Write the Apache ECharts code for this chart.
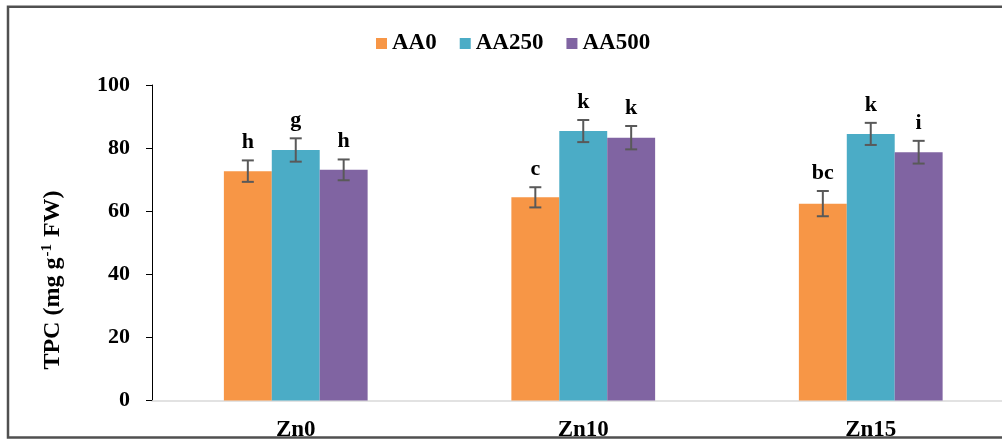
<!DOCTYPE html>
<html>
<head>
<meta charset="utf-8">
<script src="https://cdn.jsdelivr.net/npm/echarts@6/dist/echarts.min.js"></script>
<style>
html,body{margin:0;padding:0;background:#fff;}
#c{width:1002px;height:439px;}
</style>
</head>
<body>
<div id="c"></div>
<script>
// ---- data ----
var categories = ['Zn0', 'Zn10', 'Zn15'];
var seriesNames = ['AA0', 'AA250', 'AA500'];
var aa0 = [72.7, 64.4, 62.4];
var aa250 = [79.4, 85.4, 84.5];
var aa500 = [73.1, 83.3, 78.7];
var err0 = [3.4, 3.2, 4.0];
var err250 = [3.7, 3.5, 3.5];
var err500 = [3.3, 3.7, 3.6];
var letters0 = ['h', 'c', 'bc'];
var letters250 = ['g', 'k', 'k'];
var letters500 = ['h', 'k', 'i'];
var yTicks = [0, 20, 40, 60, 80, 100];

var colors = ['#F79646', '#4BACC6', '#8064A2'];
var FONT = '"Liberation Serif", "Times New Roman", serif';

var values = [aa0, aa250, aa500];
var errors = [err0, err250, err500];
var letters = [letters0, letters250, letters500];

var chart = echarts.init(document.getElementById('c'), null, {renderer: 'canvas'});

var series = [];
values.forEach(function (vals, si) {
  series.push({
    name: seriesNames[si],
    type: 'bar',
    data: vals,
    barGap: '0%',
    barCategoryGap: '50%',
    itemStyle: {color: colors[si]},
    emphasis: {disabled: true},
    z: 2
  });
});
values.forEach(function (vals, si) {
  var data = vals.map(function (v, i) { return [i, v, errors[si][i]]; });
  series.push({
    type: 'custom',
    name: 'err' + si,
    data: data,
    z: 5,
    silent: true,
    renderItem: function (params, api) {
      var ci = api.value(0);
      var v = api.value(1);
      var e = api.value(2);
      var txt = letters[si][params.dataIndex];
      var band = api.size([1, 0])[0];
      var off = (si - 1) * band / 6;
      var top = api.coord([ci, v + e]);
      var bot = api.coord([ci, v - e]);
      var x = top[0] + off;
      var cap = 6;
      var st = {stroke: '#595959', lineWidth: 2};
      return {
        type: 'group',
        children: [
          {type: 'line', shape: {x1: x, y1: top[1], x2: x, y2: bot[1]}, style: st},
          {type: 'line', shape: {x1: x - cap, y1: top[1], x2: x + cap, y2: top[1]}, style: st},
          {type: 'line', shape: {x1: x - cap, y1: bot[1], x2: x + cap, y2: bot[1]}, style: st},
          {type: 'text', x: x, y: top[1] - 7,
            style: {text: txt, fill: '#000', font: 'bold 22px ' + FONT, textAlign: 'center', textVerticalAlign: 'bottom'}}
        ]
      };
    }
  });
});

var option = {
  animation: false,
  backgroundColor: '#fff',
  legend: {
    data: seriesNames,
    left: 371,
    top: 27,
    itemWidth: 11,
    itemHeight: 11,
    itemGap: 23,
    icon: 'rect',
    textStyle: {fontFamily: FONT, fontWeight: 'bold', fontSize: 23, color: '#000'}
  },
  grid: {left: 152, top: 85, bottom: 38.5, width: 862.5, containLabel: false, outerBoundsMode: 'none'},
  xAxis: {
    type: 'category',
    data: categories,
    axisLine: {show: true, lineStyle: {color: '#d9d9d9', width: 1.5}},
    axisTick: {show: false},
    axisLabel: {margin: 18, fontFamily: FONT, fontWeight: 'bold', fontSize: 23, color: '#000'}
  },
  yAxis: {
    type: 'value',
    min: yTicks[0],
    max: yTicks[yTicks.length - 1],
    interval: yTicks[1] - yTicks[0],
    axisLine: {show: true, lineStyle: {color: '#000', width: 1}},
    axisTick: {show: true, length: 6, lineStyle: {color: '#000'}},
    splitLine: {show: false},
    axisLabel: {margin: 22, fontFamily: FONT, fontWeight: 'bold', fontSize: 22, color: '#000'}
  },
  graphic: [{
    type: 'text',
    x: 53,
    y: 280,
    rotation: Math.PI / 2,
    silent: true,
    style: {
      text: '{a|TPC (mg g}{s|-1}{a| FW)}',
      align: 'center',
      verticalAlign: 'middle',
      rich: {
        a: {fontFamily: FONT, fontWeight: 'bold', fontSize: 24, fill: '#000', lineHeight: 26},
        s: {fontFamily: FONT, fontWeight: 'bold', fontSize: 15, fill: '#000', verticalAlign: 'top', lineHeight: 26, padding: [0, 1, 0, 1]}
      }
    }
  }, {
    type: 'rect',
    z: 100,
    silent: true,
    shape: {x: 8, y: 6.7, width: 1200, height: 430.8},
    style: {fill: 'none', stroke: '#505050', lineWidth: 2.5}
  }],
  series: series
};
chart.setOption(option);
</script>
</body>
</html>
